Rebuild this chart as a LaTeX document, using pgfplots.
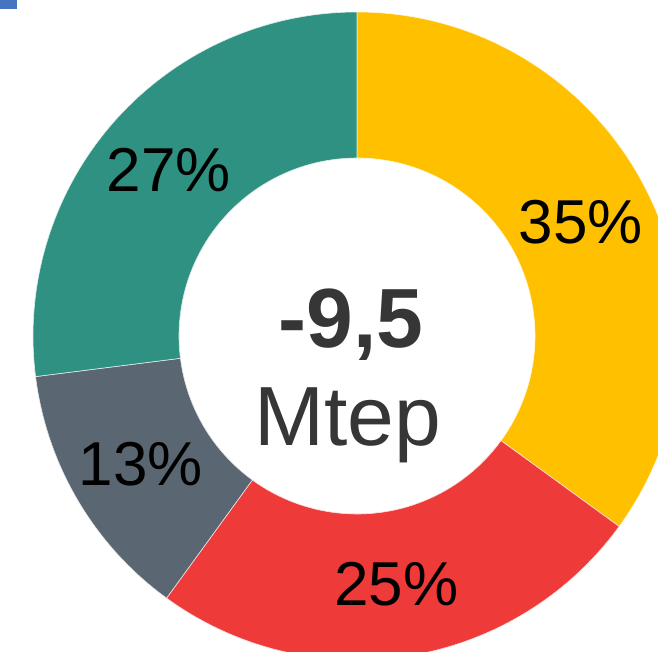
\documentclass[border=0pt]{standalone}
\usepackage{pgfplots}
\usepackage{pgfplotstable}
\pgfplotsset{compat=1.18}
\usepackage{fontspec}
\setmainfont{Liberation Sans}

\definecolor{cYel}{HTML}{FFC000}
\definecolor{cRed}{HTML}{EE3B3A}
\definecolor{cGry}{HTML}{5A6672}
\definecolor{cTea}{HTML}{2E9182}
\definecolor{cBlu}{HTML}{4674C1}
\definecolor{cTxt}{HTML}{363636}

% share of each slice, clockwise from the top
\pgfplotstableread{
share col
35 cYel
25 cRed
13 cGry
27 cTea
}\shares

\newcommand{\lblfont}{\fontsize{62}{70}\selectfont}
\def\cx{357}\def\cy{315}
\def\Ro{324pt}\def\Ri{178pt}\def\Rl{251pt}

\begin{document}
\begin{tikzpicture}
\begin{axis}[
  scale only axis, width=658pt, height=651pt,
  xmin=0, xmax=658, ymin=0, ymax=651,
  hide axis, clip=true,
]
\pgfplotstablegetrowsof{\shares}
\pgfmathtruncatemacro\nrows{\pgfplotsretval-1}
\def\acc{0}
\pgfplotsforeachungrouped \i in {0,...,\nrows}{%
  \pgfplotstablegetelem{\i}{share}\of\shares \let\v\pgfplotsretval
  \pgfplotstablegetelem{\i}{col}\of\shares \let\c\pgfplotsretval
  \pgfmathsetmacro\aS{90-3.6*\acc}%
  \pgfmathsetmacro\aE{90-3.6*(\acc+\v)}%
  \pgfmathsetmacro\aM{(\aS+\aE)/2}%
  \pgfmathtruncatemacro\vi{\v}%
  \edef\temp{%
    \noexpand\fill[\c, draw=white!85!\c, line width=0.6pt]
      ([shift={(\aS:\Ro)}]axis cs:\cx,\cy)
      arc[start angle=\aS, end angle=\aE, radius=\Ro]
      -- ([shift={(\aE:\Ri)}]axis cs:\cx,\cy)
      arc[start angle=\aE, end angle=\aS, radius=\Ri] -- cycle;
    \noexpand\node[font=\noexpand\lblfont, text=black]
      at ([shift={(\aM:\Rl)}]axis cs:\cx,\cy) {\vi\noexpand\%};
  }\temp
  \pgfmathsetmacro\acc{\acc+\v}%
}
\fill[cBlu] (axis cs:0,642) rectangle (axis cs:17,651);
\node[anchor=base, text=cTxt, font=\fontsize{84}{90}\selectfont\bfseries]
  at (axis cs:351,303) {-9,5};
\node[anchor=base, text=cTxt, font=\fontsize{84}{90}\selectfont]
  at (axis cs:348,206) {Mtep};
\end{axis}
\pgfresetboundingbox
\path[use as bounding box] (0,0) rectangle (658pt,651pt);
\end{tikzpicture}
\end{document}
